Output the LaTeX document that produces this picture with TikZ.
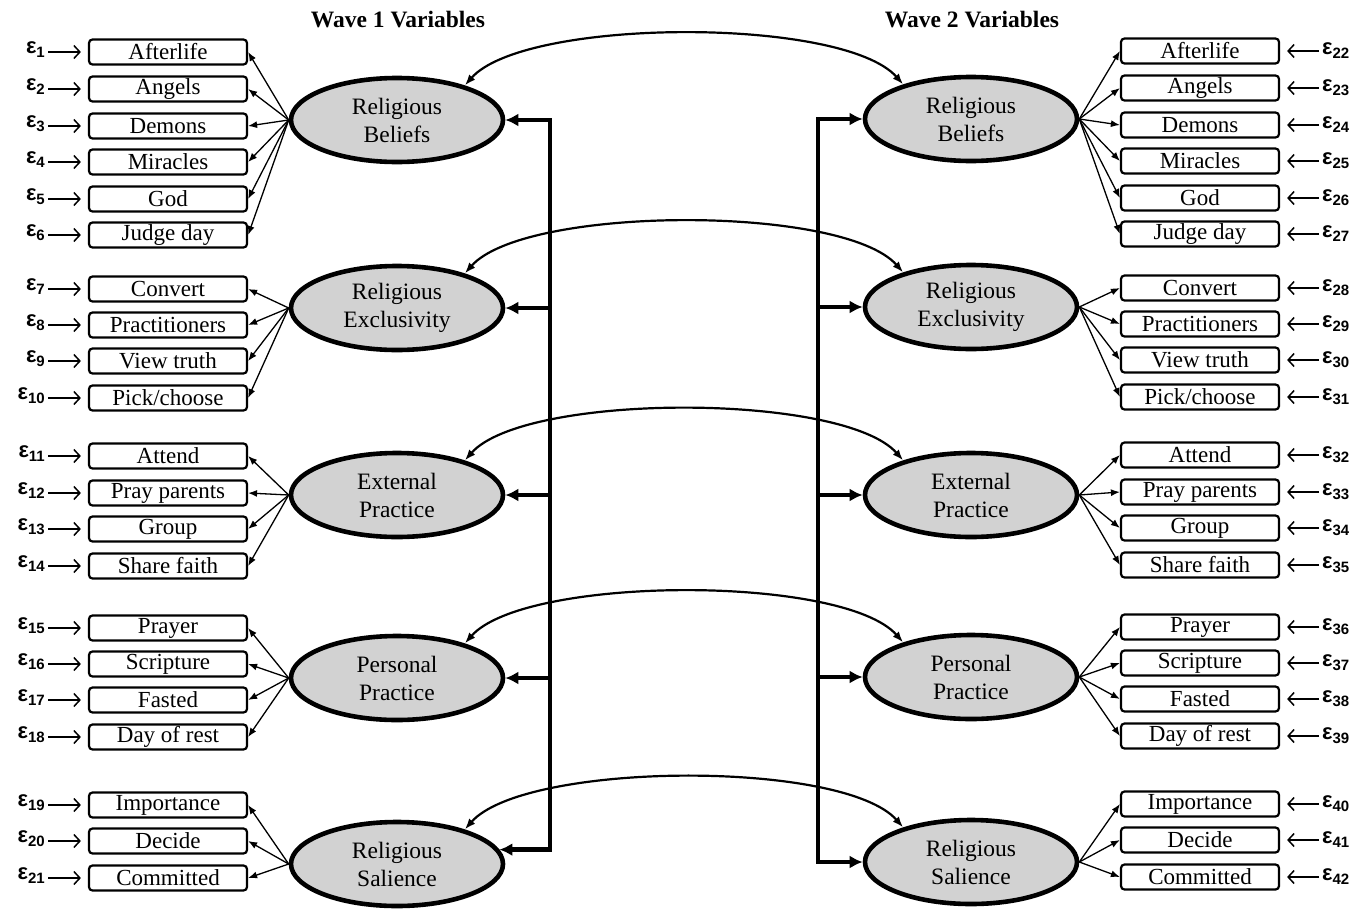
\documentclass[tikz,border=0pt]{standalone}
\usepackage{fontspec}
\setmainfont{Liberation Serif}
\newfontfamily\epsfont{Liberation Sans}
\usetikzlibrary{arrows.meta,shapes.geometric}
\definecolor{latfill}{RGB}{210,210,210}
\newcommand\epsl[1]{{\epsfont\bfseries\fontsize{22}{22}\selectfont ε\raisebox{-4pt}{\fontsize{15}{15}\selectfont#1}}}
\begin{document}
\begin{tikzpicture}[x=1pt,y=-1pt,
  obs/.style={draw, line width=2.2pt, rounded corners=3.5pt, minimum width=158pt, minimum height=25pt, inner sep=0pt, font=\fontsize{23}{26}\selectfont},
  lat/.style={ellipse, draw, line width=4.6pt, fill=latfill, minimum width=212pt, minimum height=84pt, inner sep=0pt, align=center, font=\fontsize{23.5}{28}\selectfont},
  errlab/.style={inner sep=0pt},
  errarrow/.style={line width=1.5pt, -{Straight Barb[length=6pt,width=13pt]}, shorten <=3pt, shorten >=7pt},
  load/.style={line width=1.3pt, -{Latex[length=9pt,width=7pt]}},
  cov/.style={line width=2.2pt, {Latex[length=11pt,width=8pt]}-{Latex[length=11pt,width=8pt]}},
  thickarr/.style={line width=4.5pt, -{Latex[length=13pt,width=13pt]}},
  title/.style={font=\bfseries\fontsize{23.5}{28}\selectfont}
]
\useasboundingbox (0,0) rectangle (1368,910);

\node[title] (t1) at (398,20) {Wave 1 Variables};
\node[title] (t2) at (972,20) {Wave 2 Variables};

% latent variables
\node[lat] (L1) at (397,120) {Religious\\Beliefs};
\node[lat] (L2) at (397,308) {Religious\\Exclusivity};
\node[lat] (L3) at (397,495) {External\\Practice};
\node[lat] (L4) at (397,678) {Personal\\Practice};
\node[lat] (L5) at (397,864) {Religious\\Salience};
\node[lat] (R1) at (971,119) {Religious\\Beliefs};
\node[lat] (R2) at (971,307) {Religious\\Exclusivity};
\node[lat] (R3) at (971,495) {External\\Practice};
\node[lat] (R4) at (971,677) {Personal\\Practice};
\node[lat] (R5) at (971,862) {Religious\\Salience};

% observed variables
\foreach \t/\y/\e/\n/\m in {Afterlife/52/1/1/22, Angels/89/1/2/23, Demons/126/1/3/24, Miracles/162/1/4/25, God/199/1/5/26, Judge day/235/1/6/27,
  Convert/289/2/7/28, Practitioners/325/2/8/29, View truth/361/2/9/30, {Pick/choose}/398/2/10/31,
  Attend/456/3/11/32, Pray parents/493/3/12/33, Group/529/3/13/34, Share faith/566/3/14/35,
  Prayer/628/4/15/36, Scripture/664/4/16/37, Fasted/700/4/17/38, Day of rest/737/4/18/39,
  Importance/805/5/19/40, Decide/841/5/20/41, Committed/878/5/21/42}{
  \node[obs] (lb\n) at (168,\y) {\t};
  \node[obs] (rb\n) at (1200,\y-1) {\t};
  \node[errlab, anchor=east] (le\n) at (45,\y-2) {\epsl{\n}};
  \node[errlab, anchor=west] (re\n) at (1322,\y-1) {\epsl{\m}};
  \draw[errarrow] (le\n.east |- lb\n.west) -- (lb\n.west);
  \draw[errarrow] (re\n.west |- rb\n.east) -- (rb\n.east);
  \draw[load] (L\e.west) -- (lb\n.east);
  \draw[load] (R\e.east) -- (rb\n.west);
}

% covariances between waves
\foreach \k in {1,...,5}{
  \draw[cov] (L\k.27) .. controls +(60,-68) and +(-60,-68) .. (R\k.153);
}

% second-order brackets
\coordinate (vxL) at (550,0);
\coordinate (vxR) at (818,0);
\foreach \k in {1,2,3,4}{
  \coordinate (vL\k) at (L\k.east -| vxL);
  \coordinate (vR\k) at (R\k.west -| vxR);
}
\coordinate (vL5) at (L5.8 -| vxL);
\coordinate (vR5) at (R5.west -| vxR);
\draw[thickarr, {Latex[length=13pt,width=13pt]}-{Latex[length=13pt,width=13pt]}] (L1.east) -- (vL1) -- (vL5) -- (L5.8);
\draw[thickarr, {Latex[length=13pt,width=13pt]}-{Latex[length=13pt,width=13pt]}] (R1.west) -- (vR1) -- (vR5) -- (R5.west);
\foreach \k in {2,3,4}{
  \draw[thickarr] (vL\k) -- (L\k.east);
  \draw[thickarr] (vR\k) -- (R\k.west);
}
\end{tikzpicture}
\end{document}
